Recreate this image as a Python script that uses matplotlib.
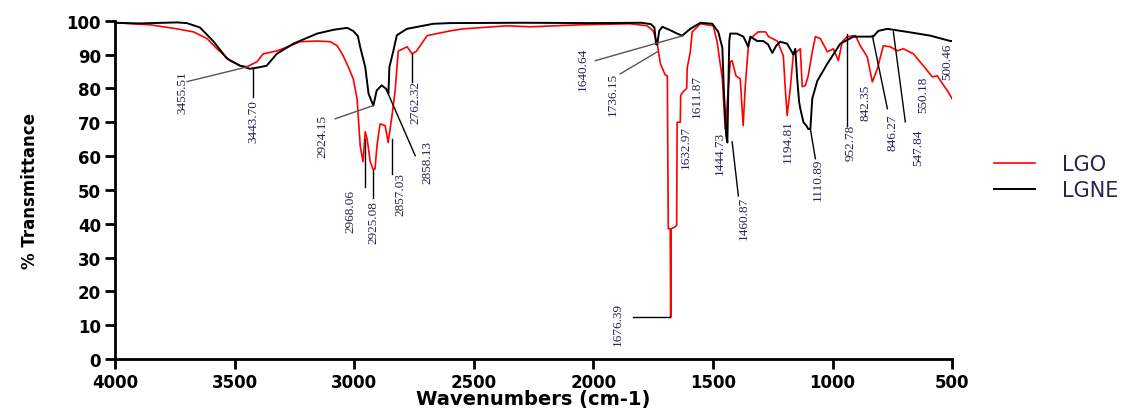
import matplotlib
matplotlib.use("Agg")
import matplotlib.pyplot as plt

# LGO spectrum (red)
lgo_wn = [4000, 3854, 3741, 3672, 3615, 3574, 3519, 3477, 3448, 3406, 3381, 3322,
          3268, 3226, 3155, 3100, 3071, 3046, 3025, 3004, 2988, 2975, 2963, 2954,
          2946, 2933, 2921, 2913, 2905, 2892, 2871, 2858, 2842, 2829, 2816, 2779,
          2758, 2740, 2695, 2599, 2545, 2360, 2264, 2055, 1846, 1775, 1750, 1733,
          1720, 1700, 1691, 1689, 1687, 1679, 1677, 1675, 1660, 1652, 1650, 1637,
          1635, 1625, 1610, 1608, 1595, 1587, 1553, 1499, 1483, 1461, 1449, 1440,
          1428, 1420, 1404, 1386, 1374, 1365, 1352, 1344, 1311, 1280, 1268, 1231,
          1206, 1198, 1190, 1177, 1164, 1150, 1135, 1127, 1114, 1102, 1085, 1072,
          1051, 1022, 997, 976, 960, 939, 905, 884, 855, 834, 813, 788, 759, 730,
          704, 662, 621, 583, 562, 541, 520, 500]
lgo_t = [99.4, 98.8, 97.6, 96.7, 94.7, 91.7, 88.2, 86.7, 86.4, 87.9, 90.2, 91.1,
         92.6, 93.8, 94.0, 93.8, 92.6, 89.6, 86.4, 82.8, 76.9, 63.0, 58.3, 67.2,
         65.0, 58.3, 56.0, 56.2, 63.0, 69.5, 69.0, 64.0, 72.0, 79.3, 91.0, 92.3,
         90.2, 91.0, 95.6, 97.0, 97.6, 98.5, 98.2, 98.8, 99.1, 98.5, 97.0, 93.2,
         87.3, 84.0, 83.7, 60.0, 38.5, 38.5, 12.4, 38.5, 39.0, 39.5, 70.0, 70.0,
         78.0, 79.0, 80.0, 86.0, 90.8, 96.7, 99.1, 98.5, 93.8, 82.8, 68.0, 76.0,
         87.9, 88.2, 83.7, 82.8, 69.0, 80.8, 92.6, 94.7, 96.7, 96.7, 95.3, 94.0,
         89.6, 80.0, 72.0, 80.0, 90.2, 90.8, 91.7, 80.5, 80.8, 83.7, 90.8, 95.3,
         94.7, 90.8, 91.7, 88.2, 93.8, 95.3, 95.6, 92.6, 89.3, 81.9, 85.8, 92.6,
         92.3, 91.1, 91.7, 90.2, 86.7, 83.4, 83.7, 81.4, 79.3, 76.9]

# LGNE spectrum (black)
lgne_wn = [4000, 3900, 3741, 3700, 3645, 3590, 3532, 3477, 3436, 3400, 3366, 3324,
           3255, 3155, 3088, 3030, 3005, 2985, 2975, 2954, 2940, 2920, 2906, 2885,
           2867, 2857, 2853, 2836, 2822, 2780, 2669, 2600, 2300, 2000, 1800, 1760,
           1745, 1738, 1733, 1725, 1712, 1679, 1650, 1629, 1595, 1553, 1503, 1478,
           1461, 1455, 1445, 1440, 1436, 1432, 1428, 1400, 1373, 1353, 1344, 1315,
           1290, 1270, 1252, 1236, 1219, 1190, 1164, 1156, 1148, 1140, 1135, 1122,
           1110, 1102, 1093, 1085, 1064, 1022, 968, 913, 830, 809, 771, 688, 592,
           508, 500]
lgne_t = [99.4, 99.2, 99.5, 99.3, 98.0, 94.0, 88.8, 86.7, 85.8, 86.2, 86.7, 90.2,
          93.2, 96.2, 97.3, 97.9, 97.0, 95.5, 92.2, 86.3, 78.4, 74.9, 79.4, 80.9,
          79.9, 78.4, 86.3, 91.2, 95.7, 97.6, 99.1, 99.3, 99.4, 99.3, 99.4, 99.0,
          98.0, 93.0, 93.0, 97.0, 98.2, 97.2, 96.2, 95.6, 97.6, 99.4, 99.1, 96.7,
          92.0, 80.0, 66.0, 64.0, 80.0, 94.0, 96.2, 96.2, 95.3, 92.3, 95.3, 94.0,
          94.0, 93.0, 90.5, 92.6, 93.8, 93.2, 90.0, 91.7, 82.8, 76.0, 74.0, 70.0,
          69.0, 68.0, 68.0, 77.0, 82.2, 87.3, 93.2, 95.3, 95.3, 97.0, 97.6, 96.7,
          95.6, 94.0, 94.0]

# peak labels: text, text centre (wn, %T), leader line (wn0, t0, wn1, t1) or None, leader colour
peak_labels = [
    ("3455.51", 3720, 79.0, (3699, 82.0, 3444, 86.4), "#555555"),
    ("3443.70", 3423, 70.4, (3423, 86.0, 3423, 77.5), "black"),
    ("2924.15", 3134, 66.0, (3080, 71.0, 2921, 74.9), "#555555"),
    ("2968.06", 3017, 43.8, (2954, 65.0, 2954, 50.9), "black"),
    ("2925.08", 2921, 40.5, (2921, 56.0, 2921, 47.6), "black"),
    ("2857.03", 2808, 48.8, (2842, 65.0, 2842, 54.7), "black"),
    ("2858.13", 2695, 58.3, (2858, 78.4, 2745, 60.1), "black"),
    ("2762.32", 2745, 76.0, (2758, 90.2, 2758, 82.0), "black"),
    ("1640.64", 2043, 85.8, (1992, 88.2, 1624, 95.6), "#555555"),
    ("1736.15", 1917, 78.4, (1888, 84.3, 1733, 90.8), "#555555"),
    ("1676.39", 1900, 10.4, (1833, 12.4, 1679, 12.4), "black"),
    ("1632.97", 1612, 62.7, None, None),
    ("1611.87", 1566, 77.8, None, None),
    ("1444.73", 1470, 61.2, None, None),
    ("1460.87", 1373, 42.0, (1420, 64.2, 1394, 48.2), "black"),
    ("1194.81", 1189, 64.5, None, None),
    ("1110.89", 1060, 53.3, (1093, 68.0, 1072, 59.2), "black"),
    ("952.78", 926, 64.2, (938, 96.0, 938, 69.0), "black"),
    ("842.35", 863, 76.0, None, None),
    ("846.27", 750, 67.2, (834, 95.6, 771, 74.0), "black"),
    ("547.84", 642, 62.7, (746, 96.7, 696, 70.1), "black"),
    ("550.18", 621, 78.4, None, None),
    ("500.46", 520, 88.2, None, None),
]

fig = plt.figure(figsize=(11.39, 4.10), dpi=100)
ax = fig.add_axes([0.101, 0.122, 0.735, 0.825])

ax.plot(lgo_wn, lgo_t, color="red", lw=1.2, label="LGO")
ax.plot(lgne_wn, lgne_t, color="black", lw=1.4, label="LGNE")

for text, tx, ty, leader, lc in peak_labels:
    if leader is not None:
        ax.plot([leader[0], leader[2]], [leader[1], leader[3]], color=lc, lw=1.0)
    ax.text(tx, ty, text, rotation=90, ha="center", va="center", fontsize=9.5,
            color="#23264f", family=["Liberation Serif", "DejaVu Serif"])

ax.set_xlim(4000, 500)
ax.set_ylim(0, 100)
ax.set_xticks(range(4000, 499, -500))
ax.set_yticks(range(0, 101, 10))
ax.spines["top"].set_visible(False)
ax.spines["right"].set_visible(False)
for s in ("left", "bottom"):
    ax.spines[s].set_linewidth(2)
ax.tick_params(direction="out", length=7, width=2, labelsize=12, pad=3)
for lab in ax.get_xticklabels() + ax.get_yticklabels():
    lab.set_fontweight("bold")

ax.set_xlabel("Wavenumbers (cm-1)", fontsize=14, fontweight="bold", labelpad=-1)
ax.set_ylabel("% Transmittance", fontsize=12, fontweight="bold", labelpad=20)

leg = fig.legend(loc="center left", bbox_to_anchor=(0.856, 0.565), frameon=False,
                 fontsize=15, handlelength=2.0, handletextpad=1.3, labelspacing=0.3)
for t in leg.get_texts():
    t.set_color("#23264f")

fig.savefig("out.png", dpi=100)
